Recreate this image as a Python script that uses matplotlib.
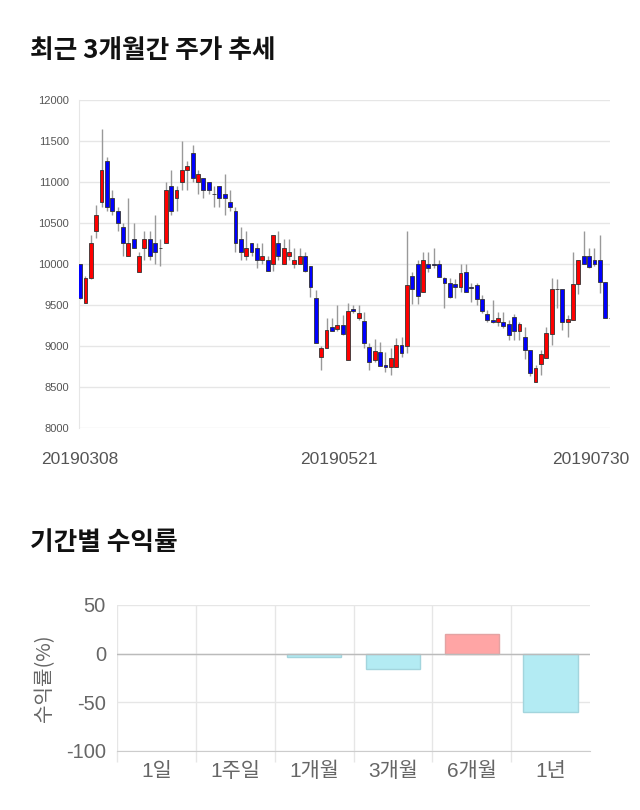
import numpy as np
import matplotlib
matplotlib.use('Agg')
import matplotlib.pyplot as plt

plt.rcParams['font.family'] = ['Liberation Sans', 'Noto Sans CJK KR', 'DejaVu Sans']
plt.rcParams['axes.unicode_minus'] = False

# 일봉 데이터 (시가, 고가, 저가, 종가)
opens = [10000, 9530, 9830, 10400, 10750, 11250, 10800, 10650, 10450, 10100,
         10300, 9900, 10200, 10300, 10250, 10200, 10250, 10950, 10800, 11000,
         11150, 11350, 11000, 11050, 11000, 10850, 10950, 10850, 10750, 10650,
         10300, 10100, 10250, 10200, 10050, 10050, 10000, 10250, 10000, 10100,
         10000, 10000, 10100, 9970, 9580, 8870, 8980, 9230, 9210, 9260,
         8830, 9450, 9340, 9300, 8990, 8830, 8930, 8770, 8740, 8740,
         9010, 9000, 9850, 10000, 9660, 10000, 10000, 10000, 9830, 9770,
         9760, 9720, 9900, 9720, 9740, 9570, 9390, 9320, 9290, 9290,
         9270, 9350, 9180, 9110, 8950, 8560, 8780, 8850, 9150, 9690,
         9700, 9290, 9320, 9760, 10100, 10100, 10050, 10050, 9780, 9340]
highs = [10000, 9850, 10350, 10720, 11650, 11300, 10900, 10700, 10500, 10800,
         10500, 10150, 10400, 10400, 10600, 10300, 11000, 11150, 10950, 11500,
         11250, 11450, 11150, 11050, 11000, 10950, 10950, 11100, 10900, 10700,
         10450, 10400, 10250, 10250, 10250, 10100, 10350, 10400, 10300, 10300,
         10200, 10200, 10150, 9970, 9680, 9000, 9340, 9340, 9500, 9380,
         9520, 9500, 9500, 9410, 9040, 9090, 9050, 8930, 8980, 9100,
         9110, 10400, 9900, 10050, 10150, 10150, 10200, 10050, 9840, 9830,
         9820, 10000, 10000, 9770, 9770, 9620, 9440, 9560, 9420, 9410,
         9320, 9390, 9290, 9230, 8950, 8770, 8950, 9230, 9830, 9820,
         9700, 9380, 10150, 10050, 10400, 10200, 10200, 10350, 9780, 9340]
lows = [9570, 9520, 9820, 10320, 10700, 10650, 10600, 10400, 10100, 10100,
        10200, 9900, 10050, 10050, 10000, 9980, 10250, 10600, 10650, 10900,
        10900, 11000, 10850, 10800, 10850, 10700, 10700, 10600, 10650, 10150,
        10050, 10050, 10100, 9950, 10000, 9920, 9920, 10050, 10000, 10050,
        9950, 10000, 9900, 9600, 9040, 8710, 8980, 9180, 9180, 9140,
        8830, 9400, 9320, 8980, 8710, 8800, 8760, 8680, 8650, 8740,
        8870, 8910, 9510, 9510, 9660, 9900, 9950, 9840, 9460, 9590,
        9590, 9660, 9660, 9540, 9500, 9400, 9290, 9280, 9240, 9220,
        9070, 9070, 9070, 8840, 8640, 8560, 8650, 8850, 9010, 9460,
        9200, 9110, 9320, 9640, 10000, 9950, 9980, 9650, 9340, 9340]
closes = [9580, 9830, 10250, 10600, 11150, 10700, 10650, 10500, 10250, 10250,
          10200, 10100, 10300, 10100, 10150, 10200, 10900, 10650, 10900, 11150,
          11200, 11050, 11100, 10900, 10900, 10850, 10800, 10800, 10700, 10250,
          10150, 10200, 10150, 10050, 10100, 9920, 10350, 10100, 10200, 10150,
          10050, 10100, 9920, 9720, 9040, 8980, 9200, 9180, 9260, 9150,
          9430, 9430, 9400, 9040, 8810, 8940, 8760, 8740, 8850, 9010,
          8910, 9740, 9700, 9610, 10050, 9950, 9990, 9840, 9770, 9600,
          9720, 9890, 9660, 9710, 9570, 9430, 9320, 9290, 9340, 9240,
          9130, 9180, 9270, 8950, 8670, 8730, 8900, 9160, 9700, 9700,
          9290, 9330, 9760, 10050, 10000, 9960, 10000, 9780, 9340, 9340]

date_labels = ['20190308', '20190521', '20190730']
date_pos = [0, 48.3, 95.3]

# 기간별 수익률
periods = ['1일', '1주일', '1개월', '3개월', '6개월', '1년']
returns = [0, 0, -3.5, -16, 20.5, -60]

fig = plt.figure(figsize=(6.4, 8.1), dpi=100)

title_font = ['Noto Sans CJK KR', 'DejaVu Sans']
fig.text(30/640, 1 - 51/810, '최근 3개월간 주가 추세', fontsize=18.5, fontweight='bold',
         va='center', ha='left', color='#111111', family=title_font)
fig.text(30/640, 1 - 543/810, '기간별 수익률', fontsize=18.5, fontweight='bold',
         va='center', ha='left', color='#111111', family=title_font)

#%% 주가 캔들 차트
ax = fig.add_axes([79/640, 1 - 428/810, 531/640, 328/810])
o = np.array(opens, dtype=float)
h = np.array(highs, dtype=float)
l = np.array(lows, dtype=float)
c = np.array(closes, dtype=float)
x = np.arange(len(o))

up = c >= o
cols = np.where(up, '#ff0000', '#0000ff')
ax.vlines(x, l, h, color='#999999', linewidth=1, zorder=2)
ax.bar(x, np.abs(c - o), bottom=np.minimum(o, c), width=0.72, color=cols,
       edgecolor='#333333', linewidth=0.6, zorder=3)

ax.set_xlim(-0.2, 98.9)
ax.set_ylim(8000, 12000)
ax.set_yticks(np.arange(8000, 12001, 500))
ax.grid(axis='y', color='#e6e6e6', linewidth=1)
ax.set_axisbelow(True)
for s in ['top', 'right', 'bottom']:
    ax.spines[s].set_visible(False)
ax.spines['left'].set_color('#e6e6e6')
ax.tick_params(axis='y', length=0, labelsize=8, labelcolor='#555555', pad=7)
ax.set_xticks(date_pos)
ax.set_xticklabels(date_labels)
ax.tick_params(axis='x', length=0, labelsize=12.5, labelcolor='#555555', pad=17)

#%% 수익률 막대 차트
ax2 = fig.add_axes([117/640, 1 - 751/810, 473/640, 146/810])
xr = np.arange(len(periods))
r = np.array(returns, dtype=float)
fill = np.where(r >= 0, '#ffa5a5', '#b3ebf3')
edge = np.where(r > 0, '#e3a3a3', np.where(r < 0, '#a3d5dd', 'none'))
ax2.bar(xr, r, width=0.69, color=fill, edgecolor=edge, linewidth=1, zorder=3)

ax2.set_xlim(-0.5, 5.5)
ax2.set_ylim(-100, 50)
ax2.set_yticks([50, 0, -50, -100])
ax2.set_xticks(xr)
ax2.set_xticklabels(periods)
ax2.set_xticks(np.arange(-0.5, 5.0, 1), minor=True)
ax2.grid(axis='y', color='#e6e6e6', linewidth=1)
ax2.grid(axis='x', which='minor', color='#e6e6e6', linewidth=1)
ax2.axhline(0, color='#bbbbbb', linewidth=1, zorder=4)
ax2.set_axisbelow(True)
for s in ['top', 'right', 'left']:
    ax2.spines[s].set_visible(False)
ax2.spines['bottom'].set_color('#cccccc')
ax2.tick_params(axis='x', which='major', length=0, labelsize=15, labelcolor='#666666', pad=8)
ax2.tick_params(axis='x', which='minor', length=8, color='#e6e6e6', width=1)
ax2.tick_params(axis='y', length=0, labelsize=14.5, labelcolor='#666666', pad=8)
ax2.set_ylabel('수익률(%)', fontsize=14.5, color='#666666', family=title_font)
ax2.yaxis.set_label_coords(-62/473, 0.5)

fig.savefig('out.png', dpi=100)
